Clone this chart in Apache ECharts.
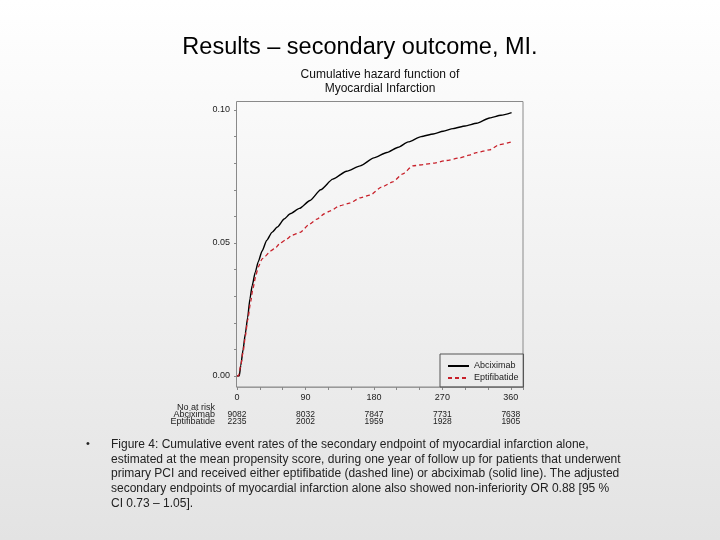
<!DOCTYPE html>
<html><head><meta charset="utf-8">
<script src="https://cdn.jsdelivr.net/npm/echarts@6/dist/echarts.min.js"></script>
<style>html,body{margin:0;padding:0;}#c{width:720px;height:540px;}</style>
</head><body><div id="c"></div>
<script>
// Data
const abciximab = [[0,0],[3,0],[5,0.004],[8,0.010],[11,0.016],[14,0.022],[17,0.029],[20,0.034],[24,0.039],[28,0.043],[33,0.047],[39,0.051],[46,0.054],[53,0.056],[62,0.059],[70,0.061],[82,0.063],[96,0.066],[110,0.070],[126,0.074],[144,0.077],[162,0.079],[180,0.082],[197,0.084],[212,0.086],[225,0.088],[242,0.090],[258,0.091],[271,0.092],[284,0.093],[300,0.094],[315,0.095],[332,0.097],[347,0.098],[361,0.099]];
const eptifibatide = [[0,0],[2,0],[5,0.004],[8,0.009],[11,0.015],[14,0.021],[18,0.028],[21,0.033],[25,0.038],[28,0.041],[33,0.044],[37,0.045],[44,0.047],[50,0.048],[57,0.050],[63,0.051],[73,0.053],[83,0.054],[95,0.057],[105,0.059],[115,0.061],[122,0.062],[135,0.064],[148,0.065],[162,0.067],[175,0.068],[190,0.071],[205,0.073],[218,0.076],[231,0.079],[245,0.0795],[258,0.080],[275,0.081],[293,0.082],[305,0.083],[315,0.084],[332,0.085],[345,0.087],[361,0.088]];
const riskDays = [0, 90, 180, 270, 360];
const riskAbciximab = [9082, 8032, 7847, 7731, 7638];
const riskEptifibatide = [2235, 2002, 1959, 1928, 1905];
const yTickLabels = ['0.00', '0.05', '0.10'];
const captionLines = [
  'Figure 4: Cumulative event rates of the secondary endpoint of myocardial infarction alone,',
  'estimated at the mean propensity score, during one year of follow up for patients that underwent',
  'primary PCI and received either eptifibatide (dashed line) or abciximab (solid line). The adjusted',
  'secondary endpoints of myocardial infarction alone also showed non-inferiority OR 0.88 [95 %',
  'CI 0.73 \u2013 1.05].'
];

const FONT = 'Liberation Sans, Arial, sans-serif';
const chart = echarts.init(document.getElementById('c'), null, {renderer: 'canvas'});
const axisText = {fontFamily: FONT, fontSize: 9, color: '#222'};

chart.setOption({
  backgroundColor: {type: 'linear', x: 0, y: 0, x2: 0, y2: 1,
    colorStops: [{offset: 0, color: '#ffffff'}, {offset: 1, color: '#e3e3e3'}]},
  animation: false,
  grid: {left: 237, right: 197, top: 110, bottom: 164, containLabel: false},
  xAxis: [{
    type: 'value', min: 0, max: 376, interval: 30, position: 'bottom', offset: 11,
    axisLine: {show: true, onZero: false, lineStyle: {color: '#999', width: 1}},
    axisTick: {show: true, length: 3, lineStyle: {color: '#888'}},
    splitLine: {show: false},
    axisLabel: Object.assign({margin: 6, formatter: v => (v % 90 === 0 ? String(v) : '')}, axisText)
  }, {
    type: 'value', min: 0, max: 376, interval: 30, position: 'bottom', offset: 35.5,
    axisLine: {show: false, onZero: false}, axisTick: {show: false}, splitLine: {show: false},
    axisLabel: Object.assign({margin: 0, lineHeight: 7, formatter: v => {
      const i = riskDays.indexOf(Math.round(v));
      return i >= 0 ? riskAbciximab[i] + '\n' + riskEptifibatide[i] : '';
    }}, axisText, {fontSize: 8.5})
  }],
  yAxis: {
    type: 'value', min: 0, max: 0.1, interval: 0.01, offset: 1,
    axisLine: {show: false},
    axisTick: {show: true, length: 3, lineStyle: {color: '#888'}},
    splitLine: {show: false},
    axisLabel: Object.assign({margin: 6, formatter: v => {
      const k = Math.round(v * 100);
      return k % 5 === 0 ? yTickLabels[k / 5] : '';
    }}, axisText)
  },
  legend: {
    orient: 'vertical', left: 440, top: 354,
    itemWidth: 21, itemHeight: 10, itemGap: 2,
    padding: [7, 5, 4, 7],
    borderColor: '#555', borderWidth: 1,
    backgroundColor: 'transparent',
    itemStyle: {opacity: 0},
    textStyle: {fontFamily: FONT, fontSize: 9, lineHeight: 10, color: '#222'},
    data: ['Abciximab', 'Eptifibatide']
  },
  series: [{
    name: 'Abciximab', type: 'line', data: abciximab, xAxisIndex: 0,
    symbol: 'none', smooth: 0.2, smoothMonotone: 'x',
    lineStyle: {color: '#000', width: 1.4}, itemStyle: {color: '#000'}
  }, {
    name: 'Eptifibatide', type: 'line', data: eptifibatide, xAxisIndex: 0,
    symbol: 'none', smooth: 0.2, smoothMonotone: 'x',
    lineStyle: {color: '#c8202a', width: 1.3, type: [4, 3]}, itemStyle: {color: '#c8202a'}
  }],
  graphic: [
    {type: 'rect', shape: {x: 236.5, y: 101.5, width: 286.5, height: 285.5}, silent: true,
      style: {fill: 'none', stroke: '#8a8a8a', lineWidth: 1}},
    {type: 'text', x: 360, y: 47.5, style: {text: 'Results \u2013 secondary outcome, MI.', fontFamily: FONT, fontSize: 23.5,
      fill: '#000', textAlign: 'center', textVerticalAlign: 'middle'}},
    {type: 'text', x: 380, y: 81.5, style: {text: 'Cumulative hazard function of\nMyocardial Infarction', fontFamily: FONT,
      fontSize: 12, lineHeight: 14, fill: '#111', textAlign: 'center', textVerticalAlign: 'middle'}},
    {type: 'text', x: 215, y: 415, style: {text: 'No at risk\nAbciximab\nEptifibatide', fontFamily: FONT,
      fontSize: 9, lineHeight: 7, fill: '#222', textAlign: 'right', textVerticalAlign: 'middle'}},
    {type: 'text', x: 86, y: 444, style: {text: '\u2022', fontFamily: FONT, fontSize: 11, fill: '#222',
      textAlign: 'left', textVerticalAlign: 'middle'}},
    {type: 'text', x: 111, y: 474, style: {text: captionLines.join('\n'), fontFamily: FONT, fontSize: 12,
      lineHeight: 14.8, fill: '#222', textAlign: 'left', textVerticalAlign: 'middle'}}
  ]
});
</script></body></html>
